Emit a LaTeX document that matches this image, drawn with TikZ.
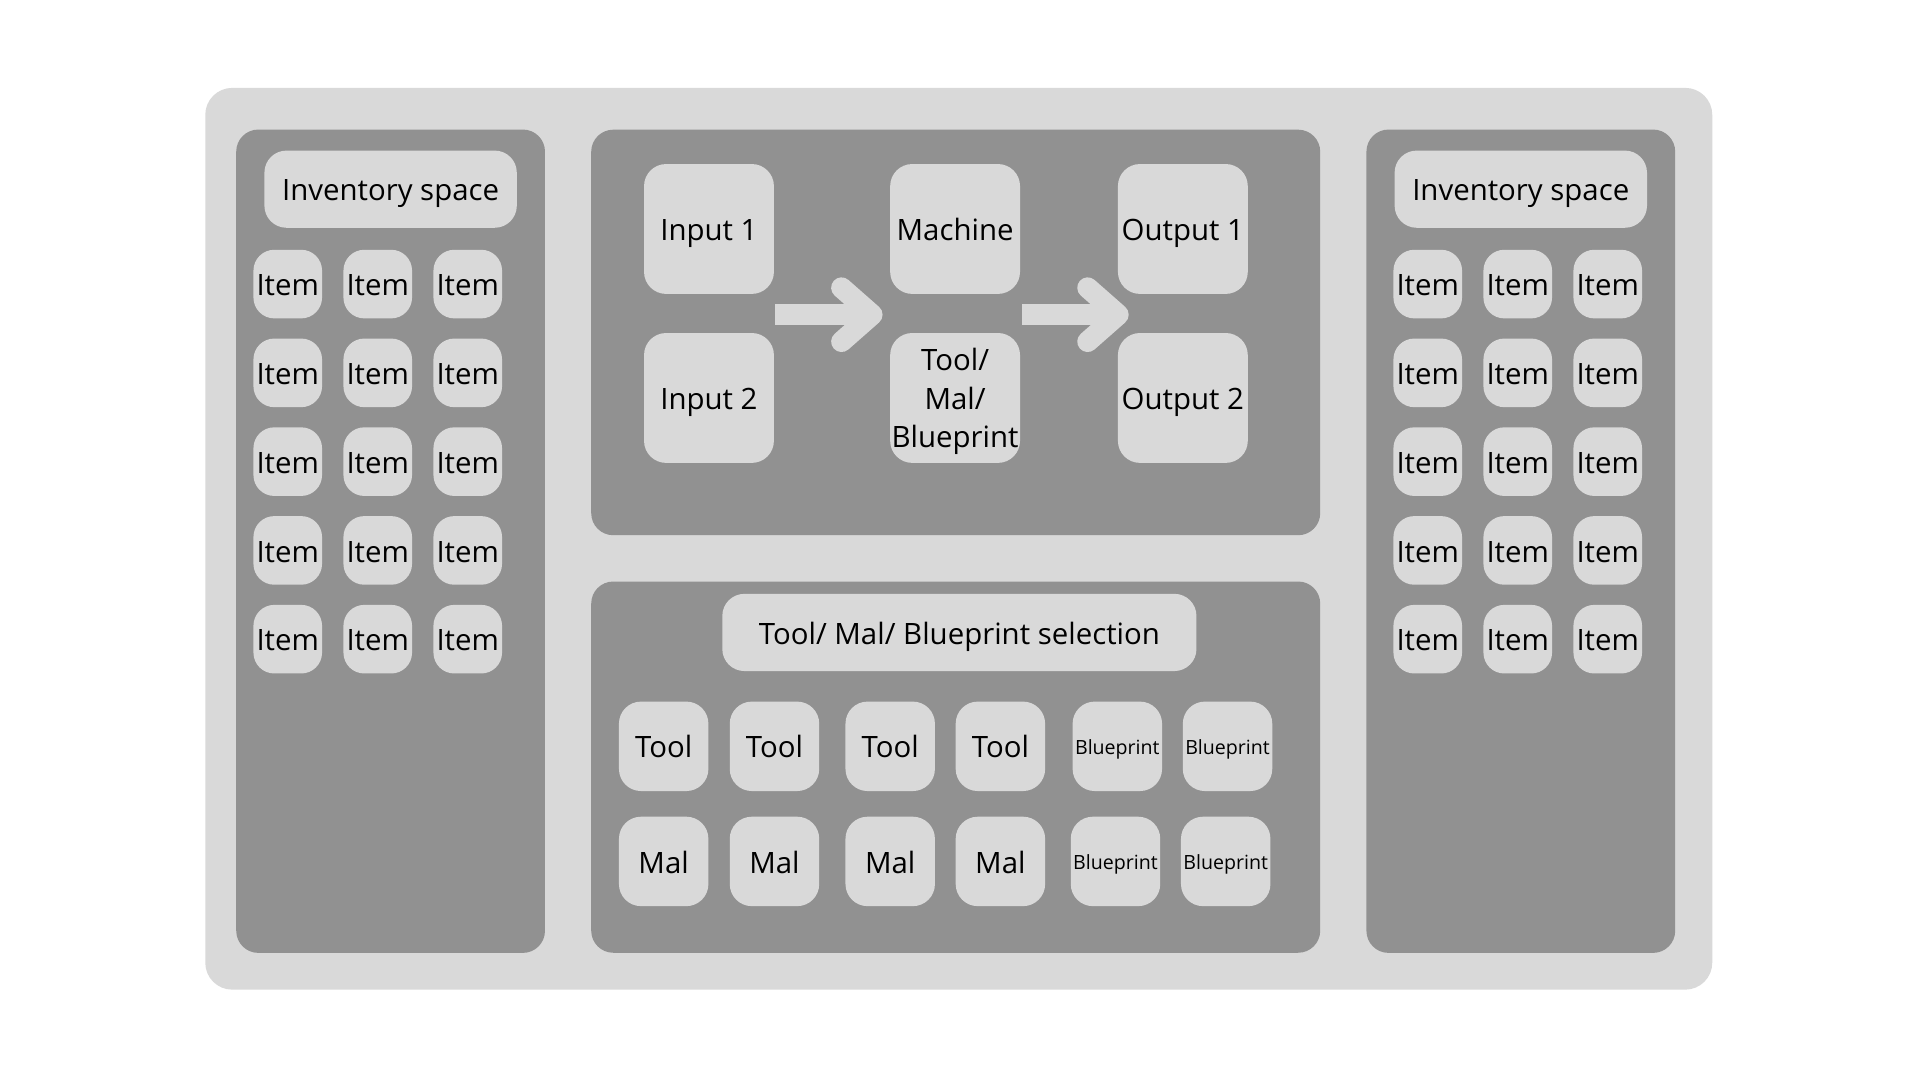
\documentclass[tikz,border=0pt]{standalone}
\usepackage{fontspec}
\setmainfont{Open Sans}
\usetikzlibrary{calc}
\definecolor{lightg}{HTML}{D9D9D9}
\definecolor{darkg}{HTML}{919191}
\begin{document}
\begin{tikzpicture}[x=0.01cm,y=-0.01cm,
  panel/.style={fill=darkg, rounded corners=0.18cm, inner sep=0pt},
  basebox/.style={fill=lightg, rounded corners=0.18cm, inner sep=0pt, align=center,
    font=\fontsize{6.83}{8.96}\selectfont, text=black},
  box/.style={basebox, text height=5.4pt, text depth=0pt},
  item/.style={box, minimum width=0.56cm, minimum height=0.56cm, rounded corners=0.17cm},
  bigbox/.style={box, minimum width=1.06cm, minimum height=1.06cm},
  multibox/.style={basebox, minimum width=1.06cm, minimum height=1.06cm, text depth=0pt},
  smallbox/.style={box, minimum width=0.73cm, minimum height=0.73cm},
  bpbox/.style={smallbox, font=\fontsize{4.55}{6}\selectfont, text height=3.7pt},
  titlebox/.style={box, minimum width=2.06cm, minimum height=0.63cm},
  shaft/.style={draw=lightg, line width=0.17cm, line cap=butt},
  chev/.style={draw=lightg, line width=0.17cm, line cap=round, line join=round}]
\fill[white] (0,0) rectangle (1568,882);
\useasboundingbox (0,0) rectangle (1568,882);
% outer frame and panels
\node[fill=lightg, rounded corners=0.22cm, minimum width=12.30cm, minimum height=7.36cm, inner sep=0pt] (outer) at (783,440) {};
\node[panel, minimum width=2.52cm, minimum height=6.72cm] (leftp) at (319,442) {};
\node[panel, minimum width=2.52cm, minimum height=6.72cm] (rightp) at (1242,442) {};
\node[panel, minimum width=5.95cm, minimum height=3.31cm] (topp) at (780.5,271.5) {};
\node[panel, minimum width=5.95cm, minimum height=3.03cm] (botp) at (780.5,626.5) {};
% inventories
\node[titlebox] (linv) at (319,154.5) {Inventory space};
\node[titlebox] (rinv) at (1242,154.5) {Inventory space};
\foreach \r in {1,...,5}{
  \foreach \c in {1,2,3}{
    \node[item] (l\r\c) at ({235+73.5*(\c-1)},{232+72.5*(\r-1)}) {Item};
    \node[item] (r\r\c) at ({1166+73.5*(\c-1)},{232+72.5*(\r-1)}) {Item};
  }
}
% machine panel
\node[bigbox] (in1) at (579,187) {Input 1};
\node[bigbox] (in2) at (579,325) {Input 2};
\node[bigbox] (mach) at (780,187) {Machine};
\node[multibox] (tmb) at (780,325) {Tool/\\Mal/\\Blueprint};
\node[bigbox] (out1) at (966,187) {Output 1};
\node[bigbox] (out2) at (966,325) {Output 2};
% fat arrows
\coordinate (s1) at ($(in1.south east)!0.5!(in2.north east)+(0,1)$);
\coordinate (t1) at ($(mach.south west)!0.5!(tmb.north west)+(-14,1)$);
\coordinate (s2) at ($(mach.south east)!0.5!(tmb.north east)+(1,1)$);
\coordinate (t2) at ($(out1.south west)!0.5!(out2.north west)+(1,1)$);
\draw[shaft] (s1) -- (t1);
\draw[chev] ($(t1)+(-25,-22)$) -- (t1) -- ($(t1)+(-25,22)$);
\draw[shaft] (s2) -- (t2);
\draw[chev] ($(t2)+(-25,-22)$) -- (t2) -- ($(t2)+(-25,22)$);
% selection panel
\node[box, minimum width=3.87cm, minimum height=0.63cm] (sel) at (783.5,516.5) {Tool/ Mal/ Blueprint selection};
\node[smallbox] (t1n) at (542,609.5) {Tool};
\node[smallbox] (t2n) at (632.5,609.5) {Tool};
\node[smallbox] (t3n) at (727,609.5) {Tool};
\node[smallbox] (t4n) at (817,609.5) {Tool};
\node[bpbox] (b1n) at (912.5,609.5) {Blueprint};
\node[bpbox] (b2n) at (1002.5,609.5) {Blueprint};
\node[smallbox] (m1n) at (542,703.5) {Mal};
\node[smallbox] (m2n) at (632.5,703.5) {Mal};
\node[smallbox] (m3n) at (727,703.5) {Mal};
\node[smallbox] (m4n) at (817,703.5) {Mal};
\node[bpbox] (b3n) at (911,703.5) {Blueprint};
\node[bpbox] (b4n) at (1001,703.5) {Blueprint};
\end{tikzpicture}
\end{document}
